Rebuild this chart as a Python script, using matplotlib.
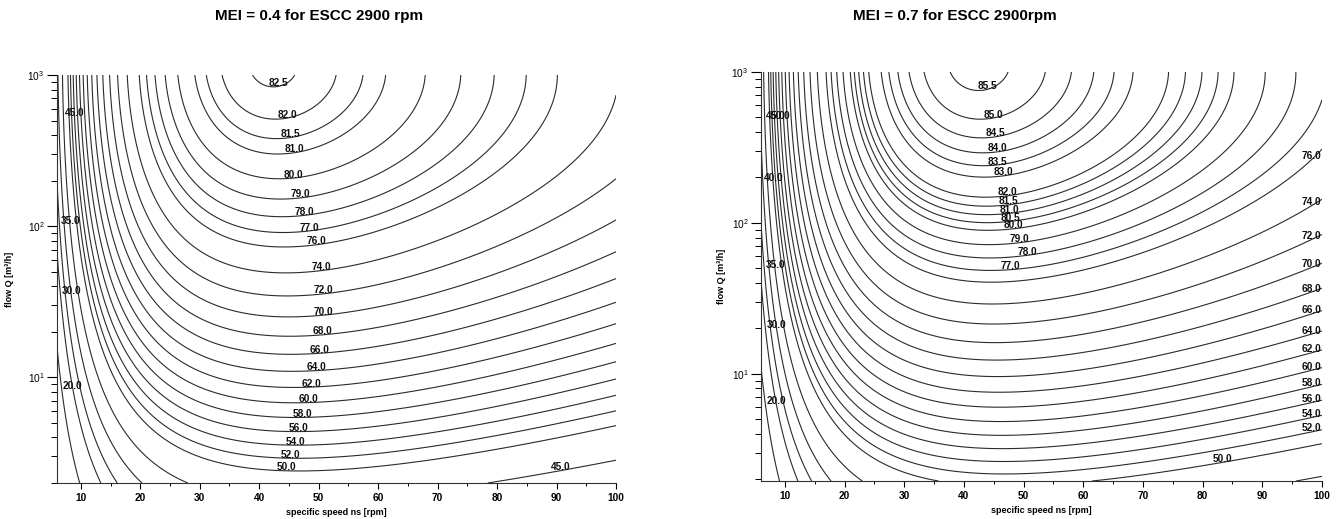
import numpy as np
import matplotlib
matplotlib.use('Agg')
import matplotlib.pyplot as plt
from matplotlib.ticker import FixedLocator, MultipleLocator, LogLocator

plt.rcParams['font.family'] = ['Liberation Sans', 'DejaVu Sans']
plt.rcParams['mathtext.fontset'] = 'custom'
plt.rcParams['mathtext.bf'] = 'Liberation Sans:bold'
plt.rcParams['mathtext.rm'] = 'Liberation Sans'
plt.rcParams['mathtext.default'] = 'bf'

# efficiency surface eta(ns, Q), x = ln(ns), y = ln(Q)
# terms: x^2, y^2, x*y, x, y
eta_coef = [-11.48, -0.85, -0.38, 88.59, 13.46]
mei_const = [130.77, 127.7]          # MEI 0.4, MEI 0.7
titles = ['MEI = 0.4 for ESCC 2900 rpm', 'MEI = 0.7 for ESCC 2900rpm']

ns_lim = [6, 100]
q_lim_left = [2.0, 1000]
q_lim_right = [1.95, 1000]

levels_left = [20, 30, 35, 40, 45, 50, 52, 54, 56, 58, 60, 62, 64, 66, 68, 70,
               72, 74, 76, 77, 78, 79, 80, 81, 81.5, 82, 82.5]
levels_right = [20, 30, 35, 40, 45, 50, 52, 54, 56, 58, 60, 62, 64, 66, 68, 70,
                72, 74, 76, 77, 78, 79, 80, 80.5, 81, 81.5, 82, 83, 83.5, 84,
                84.5, 85, 85.5]

# labels placed on a column (level, ns) or on a row at the left edge (level, Q)
col_labels_left = [(82.5, 43.2), (82, 44.8), (81.5, 45.3), (81, 45.9), (80, 45.7),
                   (79, 46.9), (78, 47.6), (77, 48.3), (76, 49.6), (74, 50.4),
                   (72, 50.7), (70, 50.7), (68, 50.7), (66, 50.1), (64, 49.7),
                   (62, 48.9), (60, 48.2), (58, 47.3), (56, 46.7), (54, 46.1),
                   (52, 45.3), (50, 44.6), (45, 90.7)]
row_labels_left = [(45, 558), (35, 108), (30, 37.4), (20, 8.84)]

col_labels_right = [(85.5, 43.9), (85, 44.9), (84.5, 45.2), (84, 45.6), (83.5, 45.6),
                    (83, 46.7), (82, 47.2), (81.5, 47.4), (81, 47.6), (80.5, 47.8),
                    (80, 48.4), (79, 49.3), (78, 50.5), (77, 47.7),
                    (76, 98.2), (74, 98.2), (72, 98.2), (70, 98.2), (68, 98.2),
                    (66, 98.2), (64, 98.2), (62, 98.2), (60, 98.2), (58, 98.2),
                    (56, 98.2), (54, 98.2), (52, 98.2), (50, 83.4)]
row_labels_right = [(45, 508), (50, 508), (40, 198), (35, 52.8), (30, 21.2), (20, 6.58)]

line_col = '#2b2b2b'


def draw(ax, C, qlim, levels, col_labels, row_labels, title_x, title):
    ns = np.linspace(ns_lim[0], ns_lim[1], 600)
    q = np.geomspace(qlim[0], qlim[1], 600)
    NS, QQ = np.meshgrid(ns, q)
    x, y = np.log(NS), np.log(QQ)
    a, b, c, d, e = eta_coef
    Z = a * x**2 + b * y**2 + c * x * y + d * x + e * y - C

    ax.contour(NS, QQ, Z, levels=levels, colors=line_col, linewidths=0.8)

    for lev, n0 in col_labels:
        j = np.argmin(np.abs(ns - n0))
        qq = np.exp(np.interp(lev, Z[:, j], np.log(q)))
        ax.annotate('%.1f' % lev, (ns[j], qq), xytext=(0, 0.3), textcoords='offset points',
                    ha='center', va='baseline', fontsize=7.3, fontweight='bold', color='#111')
    for lev, q0 in row_labels:
        i = np.argmin(np.abs(q - q0))
        m = ns < 35
        n = np.interp(lev, Z[i, m], ns[m])
        ax.annotate('%.1f' % lev, (n, q[i]), xytext=(1.0, 0), textcoords='offset points',
                    ha='left', va='center', fontsize=7.3, fontweight='bold', color='#111')

    ax.set_xlim(ns_lim)
    ax.set_yscale('log')
    ax.set_ylim(qlim)
    ax.xaxis.set_major_locator(FixedLocator(np.arange(10, 101, 10)))
    ax.xaxis.set_minor_locator(MultipleLocator(5))
    ax.yaxis.set_major_locator(LogLocator(base=10))
    ax.yaxis.set_minor_locator(LogLocator(base=10, subs=np.arange(2, 10)))
    ax.tick_params(axis='x', which='major', direction='out', length=4, width=0.8,
                   labelsize=7.3, pad=3)
    ax.tick_params(axis='x', which='minor', direction='out', length=2.5, width=0.7)
    ax.tick_params(axis='y', which='major', direction='out', length=7, width=0.8,
                   labelsize=7.3, pad=2)
    ax.tick_params(axis='y', which='minor', direction='out', length=4.5, width=0.7)
    for lab in ax.get_xticklabels():
        lab.set_fontweight('bold')
    for s in ['top', 'right']:
        ax.spines[s].set_visible(False)
    for s in ['left', 'bottom']:
        ax.spines[s].set_linewidth(0.8)
        ax.spines[s].set_color('#333')

    ax.set_xlabel('specific speed ns [rpm]', fontsize=6.5, fontweight='bold')
    ax.set_ylabel('flow Q [m³/h]', fontsize=6.5, fontweight='bold')
    ax.xaxis.set_label_coords(0.5, -0.061)
    fig.text(title_x, 0.969, title, ha='center', va='center', fontsize=11, fontweight='bold')


fig = plt.figure(figsize=(13.41, 5.19), dpi=100)
ax1 = fig.add_axes([0.0425, 0.0694, 0.4169, 0.7861])
ax2 = fig.add_axes([0.5675, 0.0732, 0.4183, 0.7881])

draw(ax1, mei_const[0], q_lim_left, levels_left, col_labels_left, row_labels_left,
     0.238, titles[0])
draw(ax2, mei_const[1], q_lim_right, levels_right, col_labels_right, row_labels_right,
     0.712, titles[1])
ax1.yaxis.set_label_coords(-0.077, 0.5)
ax2.yaxis.set_label_coords(-0.062, 0.5)

fig.savefig('out.png', dpi=100)
